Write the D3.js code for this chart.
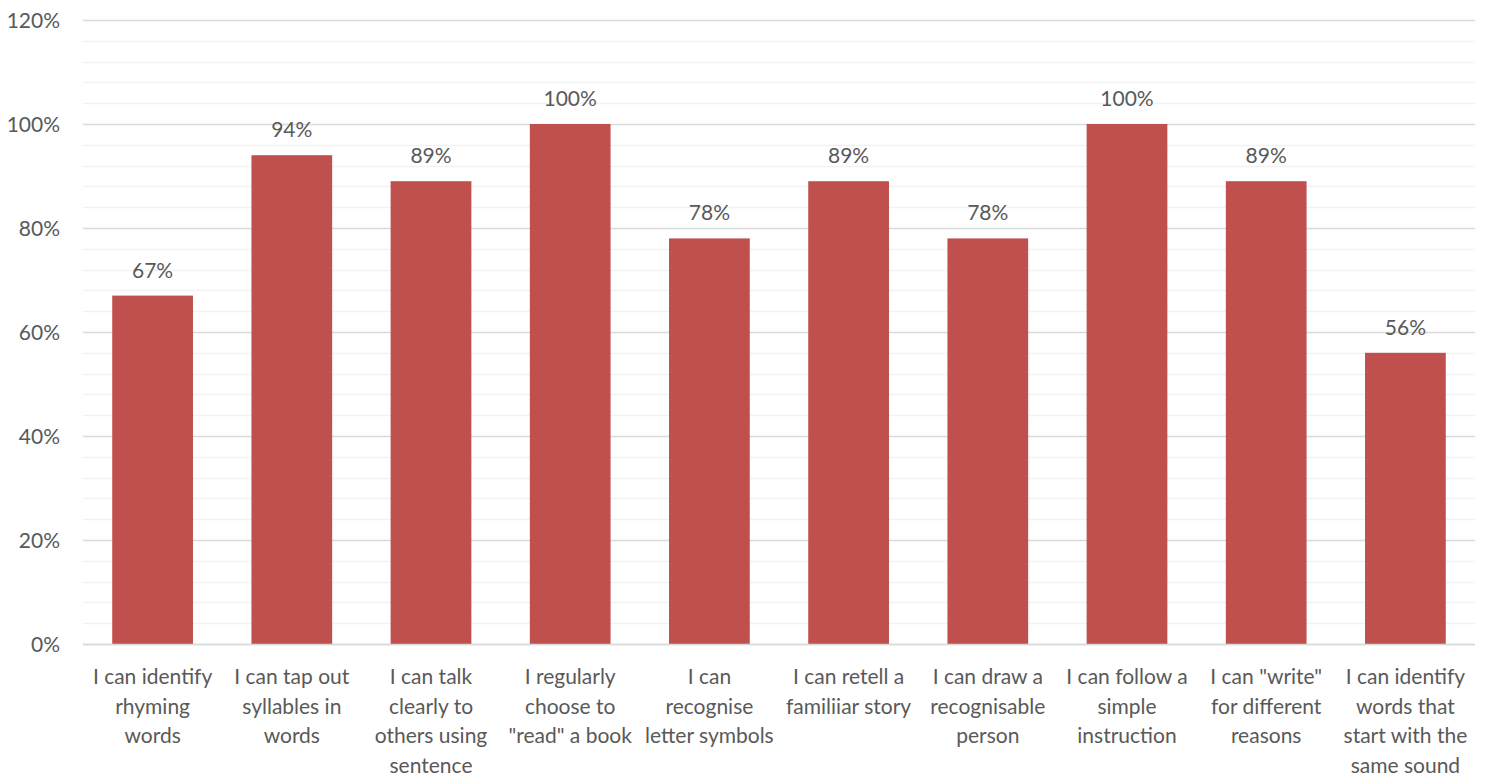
<!DOCTYPE html>
<html><head><meta charset="utf-8">
<script src="https://cdn.jsdelivr.net/npm/d3@7"></script>
<style>body{margin:0;background:#fff}svg{display:block}text{font-family:Lato,"Open Sans",sans-serif;fill:#595959}</style>
</head><body><svg id="c" width="1487" height="776"></svg>
<script>
const categories = [
  ["I can identify","rhyming","words"],
  ["I can tap out","syllables in","words"],
  ["I can talk","clearly to","others using","sentence"],
  ["I regularly","choose to","\"read\" a book"],
  ["I can","recognise","letter symbols"],
  ["I can retell a","familiiar story"],
  ["I can draw a","recognisable","person"],
  ["I can follow a","simple","instruction"],
  ["I can \"write\"","for different","reasons"],
  ["I can identify","words that","start with the","same sound"]
];
const values = [0.67,0.94,0.89,1.00,0.78,0.89,0.78,1.00,0.89,0.56];
const majorTicks = [0,0.2,0.4,0.6,0.8,1.0,1.2];
const minorTicks = d3.range(0,31).map(i=>i*0.04);

const svg = d3.select("#c");
const L=83,R=1475,T=20,B=644;
const x = d3.scaleBand().domain(d3.range(categories.length)).range([L,R]).paddingInner(0.42).paddingOuter(0.21);
const y = d3.scaleLinear().domain([0,1.2]).range([B,T]);
const fmt = d3.format(".0%");

svg.append("g").selectAll("line").data(minorTicks.filter(t=>Math.abs(t*5-Math.round(t*5))>1e-6)).join("line")
  .attr("x1",L).attr("x2",R).attr("y1",d=>Math.round(y(d))+0.5).attr("y2",d=>Math.round(y(d))+0.5)
  .attr("stroke","#f2f2f2").attr("stroke-width",1.5);
svg.append("g").selectAll("line").data(majorTicks).join("line")
  .attr("x1",L).attr("x2",R).attr("y1",d=>Math.round(y(d))+0.5).attr("y2",d=>Math.round(y(d))+0.5)
  .attr("stroke","#d9d9d9").attr("stroke-width",1.5);

const yAxis = d3.axisLeft(y).tickValues(majorTicks).tickFormat(fmt).tickSize(0).tickPadding(0);
const ya = svg.append("g").attr("transform",`translate(${L-23},0)`).call(yAxis);
ya.select(".domain").remove();
ya.selectAll("text").style("font-size","21px").attr("fill","#595959").attr("dy","0.35em");

svg.append("g").selectAll("rect").data(values).join("rect")
  .attr("x",(d,i)=>x(i)).attr("width",x.bandwidth())
  .attr("y",d=>y(d)).attr("height",d=>y(0)-y(d)).attr("fill","#C0504D");

svg.append("g").selectAll("text").data(values).join("text")
  .attr("x",(d,i)=>x(i)+x.bandwidth()/2).attr("y",d=>y(d)-18)
  .attr("text-anchor","middle").style("font-size","21px").text(d=>fmt(d));

svg.append("line").attr("x1",L).attr("x2",R).attr("y1",B+0.5).attr("y2",B+0.5).attr("stroke","#d9d9d9").attr("stroke-width",1.5);

const xl = svg.append("g");
categories.forEach((lines,i)=>{
  const t = xl.append("text").attr("text-anchor","middle").style("font-size","21px");
  lines.forEach((ln,j)=>t.append("tspan").attr("x",x(i)+x.bandwidth()/2).attr("y",684+j*29.5).text(ln));
});
</script></body></html>
